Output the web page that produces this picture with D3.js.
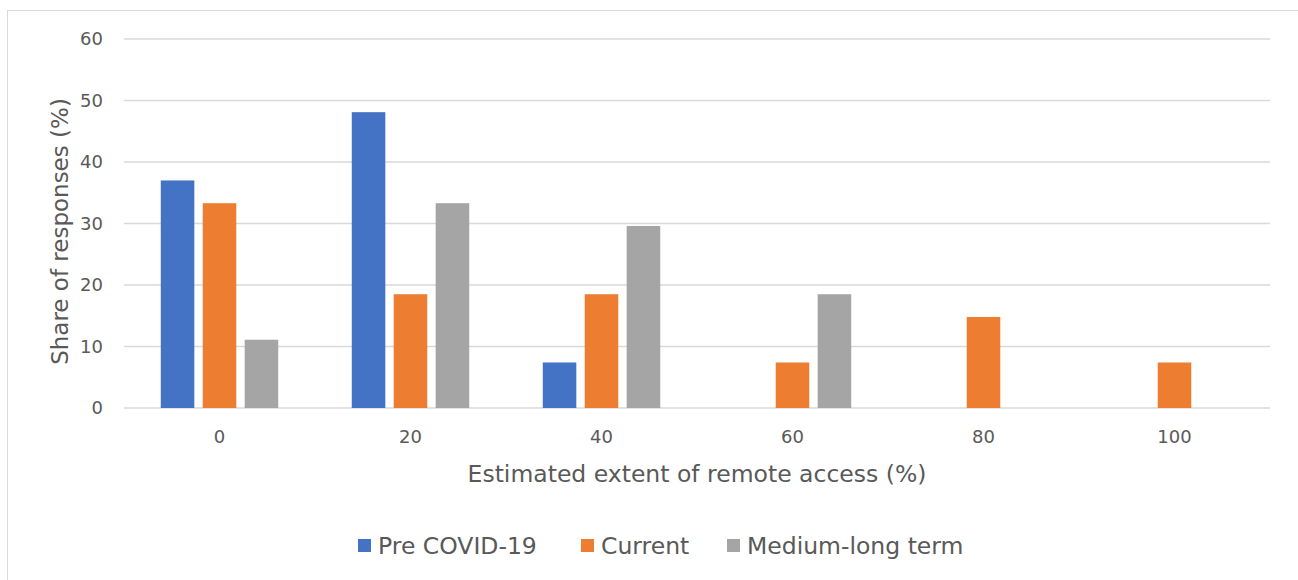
<!DOCTYPE html>
<html>
<head>
<meta charset="utf-8">
<script src="https://cdn.jsdelivr.net/npm/d3@7"></script>
<style>
  body { margin: 0; background: #fff; }
  svg text { font-family: "DejaVu Sans", Verdana, sans-serif; fill: #595959; }
</style>
</head>
<body>
<svg id="chart" width="1298" height="580"></svg>
<script>
var categories = ["0", "20", "40", "60", "80", "100"];
var seriesNames = ["Pre COVID-19", "Current", "Medium-long term"];
var preCovid = [37.0, 48.1, 7.4, 0, 0, 0];
var current = [33.3, 18.5, 18.5, 7.4, 14.8, 7.4];
var mediumLong = [11.1, 33.3, 29.6, 18.5, 0, 0];
var yTicks = [0, 10, 20, 30, 40, 50, 60];
var colors = ["#4472c4", "#ed7d31", "#a5a5a5"];

var series = [preCovid, current, mediumLong];

var svg = d3.select("#chart"),
    margin = {top: 39, right: 28, bottom: 172, left: 124},
    width = +svg.attr("width") - margin.left - margin.right,
    height = +svg.attr("height") - margin.top - margin.bottom;

// outer chart border
svg.append("rect")
    .attr("x", 7.5).attr("y", 10.5)
    .attr("width", 1300).attr("height", 600)
    .attr("fill", "none").attr("stroke", "#d9d9d9");

var g = svg.append("g").attr("transform", "translate(" + margin.left + "," + margin.top + ")");

var x0 = d3.scaleBand().domain(categories).range([0, width]).paddingInner(0.385).paddingOuter(0.1925);
var x1 = d3.scaleBand().domain(d3.range(seriesNames.length)).range([0, x0.bandwidth()]).paddingInner(0.2);
var y = d3.scaleLinear().domain([0, 60]).range([height, 0]);

// gridlines
g.append("g")
    .selectAll("line")
    .data(yTicks)
    .enter().append("line")
      .attr("x1", 0).attr("x2", width)
      .attr("y1", function(d) { return y(d); })
      .attr("y2", function(d) { return y(d); })
      .attr("stroke", "#d9d9d9")
      .attr("stroke-width", 1.5);

// y tick labels
g.append("g")
    .selectAll("text")
    .data(yTicks)
    .enter().append("text")
      .attr("x", -21)
      .attr("y", function(d) { return y(d); })
      .attr("dy", "0.35em")
      .attr("text-anchor", "end")
      .style("font-size", "18px")
      .text(function(d) { return d; });

// bars
var groups = g.selectAll(".cat")
    .data(categories)
    .enter().append("g")
      .attr("class", "cat")
      .attr("transform", function(d) { return "translate(" + x0(d) + ",0)"; });

groups.selectAll("rect")
    .data(function(d, i) { return series.map(function(s, k) { return {k: k, v: s[i]}; }); })
    .enter().append("rect")
      .filter(function(d) { return d.v > 0; })
      .attr("x", function(d) { return x1(d.k); })
      .attr("y", function(d) { return y(d.v); })
      .attr("width", x1.bandwidth())
      .attr("height", function(d) { return height - y(d.v); })
      .attr("fill", function(d) { return colors[d.k]; });

// x tick labels
g.append("g")
    .selectAll("text")
    .data(categories)
    .enter().append("text")
      .attr("x", function(d) { return x0(d) + x0.bandwidth() / 2; })
      .attr("y", height + 29)
      .attr("dy", "0.35em")
      .attr("text-anchor", "middle")
      .style("font-size", "18px")
      .text(function(d) { return d; });

// axis titles
g.append("text")
    .attr("x", width / 2)
    .attr("y", height + 66)
    .attr("dy", "0.35em")
    .attr("text-anchor", "middle")
    .style("font-size", "23.5px")
    .text("Estimated extent of remote access (%)");

g.append("text")
    .attr("transform", "translate(" + (60 - margin.left) + "," + (height / 2 + 8) + ") rotate(-90)")
    .attr("dy", "0.35em")
    .attr("text-anchor", "middle")
    .style("font-size", "23px")
    .text("Share of responses (%)");

// legend
var legendX = [358, 581, 727];
var legend = svg.append("g")
    .selectAll("g")
    .data(seriesNames)
    .enter().append("g")
      .attr("transform", function(d, i) { return "translate(" + legendX[i] + ",539)"; });

legend.append("rect")
    .attr("width", 13).attr("height", 13)
    .attr("fill", function(d, i) { return colors[i]; });

legend.append("text")
    .attr("x", 20).attr("y", 7)
    .attr("dy", "0.35em")
    .style("font-size", "23.5px")
    .text(function(d) { return d; });
</script>
</body>
</html>
